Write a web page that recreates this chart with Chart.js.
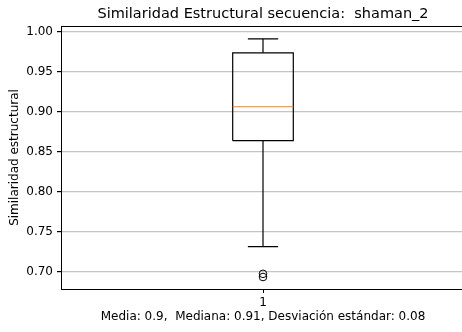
<!DOCTYPE html>
<html>
<head>
<meta charset="utf-8">
<script src="https://cdn.jsdelivr.net/npm/chart.js@4/dist/chart.umd.min.js"></script>
<style>
  html, body { margin: 0; padding: 0; background: #fff; overflow: hidden; }
  #wrap { width: 470px; height: 332px; position: relative; }
</style>
</head>
<body>
<div id="wrap"><canvas id="c"></canvas></div>
<script>
// Box plot summary for the structural similarity of the sequence
const categories   = ['1'];
const positions    = [1];
const q1Values     = [0.8635];
const q3Values     = [0.9735];
const medianValues = [0.906];
const whiskerLow   = [0.731];
const whiskerHigh  = [0.991];
const outlierValues = [[0.697, 0.693]];
const yTickValues  = [0.70, 0.75, 0.80, 0.85, 0.90, 0.95, 1.00];
const titleText    = 'Similaridad Estructural secuencia:  shaman_2';
const yAxisLabel   = 'Similaridad estructural';
const xAxisLabel   = 'Media: 0.9,  Mediana: 0.91, Desviación estándar: 0.08';

const BOX_HALF = 0.075;   // half box width in x units
const CAP_HALF = 0.0375;  // half whisker cap width

const FONT = 'DejaVu Sans';
Chart.defaults.font.family = FONT;
Chart.defaults.color = '#000';

// Build line datasets (null breaks separate segments)
const boxPts = [], whiskerPts = [], medianPts = [], outlierPts = [];
positions.forEach((p, i) => {
  const l = p - BOX_HALF, r = p + BOX_HALF;
  boxPts.push({x: l, y: q1Values[i]}, {x: r, y: q1Values[i]}, {x: r, y: q3Values[i]},
              {x: l, y: q3Values[i]}, {x: l, y: q1Values[i]}, {x: null, y: null});
  whiskerPts.push({x: p, y: q3Values[i]}, {x: p, y: whiskerHigh[i]}, {x: null, y: null},
                  {x: p - CAP_HALF, y: whiskerHigh[i]}, {x: p + CAP_HALF, y: whiskerHigh[i]}, {x: null, y: null},
                  {x: p, y: q1Values[i]}, {x: p, y: whiskerLow[i]}, {x: null, y: null},
                  {x: p - CAP_HALF, y: whiskerLow[i]}, {x: p + CAP_HALF, y: whiskerLow[i]}, {x: null, y: null});
  medianPts.push({x: l, y: medianValues[i]}, {x: r, y: medianValues[i]}, {x: null, y: null});
  outlierValues[i].forEach(v => outlierPts.push({x: p, y: v}));
});

const lineDs = (data, color, order) => ({
  type: 'scatter', data, showLine: true, spanGaps: false,
  borderColor: color, borderWidth: 1.2, pointRadius: 0, order
});

// Frame around the plotting area plus an axes-centred title
const framePlugin = {
  id: 'frame',
  afterDraw(chart) {
    const {ctx, chartArea: a} = chart;
    ctx.save();
    ctx.strokeStyle = '#000';
    ctx.lineWidth = 1;
    ctx.strokeRect(Math.round(a.left) + 0.5, Math.round(a.top) + 0.5,
                   Math.round(a.right - a.left), Math.round(a.bottom - a.top));
    ctx.fillStyle = '#000';
    ctx.font = '14.5px "' + FONT + '"';
    ctx.textAlign = 'center';
    ctx.textBaseline = 'middle';
    ctx.fillText(titleText, (a.left + a.right) / 2, 14);
    ctx.restore();
  }
};

new Chart(document.getElementById('c'), {
  type: 'scatter',
  data: {
    datasets: [
      lineDs(boxPts, '#000', 2),
      lineDs(whiskerPts, '#000', 2),
      lineDs(medianPts, '#ff7f0e', 1),
      {
        type: 'scatter', data: outlierPts, pointStyle: 'circle', pointRadius: 3.8,
        backgroundColor: 'rgba(0,0,0,0)', borderColor: '#000', borderWidth: 1, order: 0
      }
    ]
  },
  options: {
    responsive: true,
    maintainAspectRatio: false,
    animation: false,
    layout: { padding: { top: 26, right: 5, left: 0, bottom: 0 } },
    plugins: { legend: { display: false }, tooltip: { enabled: false }, title: { display: false } },
    scales: {
      x: {
        type: 'linear', min: 0.5, max: 1.5,
        afterBuildTicks(s) { s.ticks = positions.map(v => ({value: v})); },
        afterFit(s) { s.height = 43; },
        ticks: {
          font: { size: 12 }, color: '#000', padding: 3, maxRotation: 0,
          callback: (v) => { const i = positions.indexOf(v); return i >= 0 ? categories[i] : ''; }
        },
        grid: { drawOnChartArea: false, drawTicks: true, tickLength: 4, tickColor: '#000', color: '#000' },
        border: { display: true, color: '#000' },
        title: { display: true, text: xAxisLabel, font: { size: 12 }, color: '#000', padding: { top: 0, bottom: 8 } }
      },
      y: {
        type: 'linear', min: 0.678, max: 1.007,
        afterBuildTicks(s) { s.ticks = yTickValues.map(v => ({value: v})); },
        afterFit(s) { s.width = 61; },
        ticks: { font: { size: 12 }, color: '#000', padding: 4, callback: v => v.toFixed(2) },
        grid: { color: '#c4c4c4', lineWidth: 1.2, drawTicks: true, tickLength: 4, tickColor: '#000' },
        border: { display: true, color: '#000' },
        title: { display: true, text: yAxisLabel, font: { size: 12 }, color: '#000', padding: { top: 8, bottom: 0 } }
      }
    }
  },
  plugins: [framePlugin]
});
</script>
</body>
</html>
